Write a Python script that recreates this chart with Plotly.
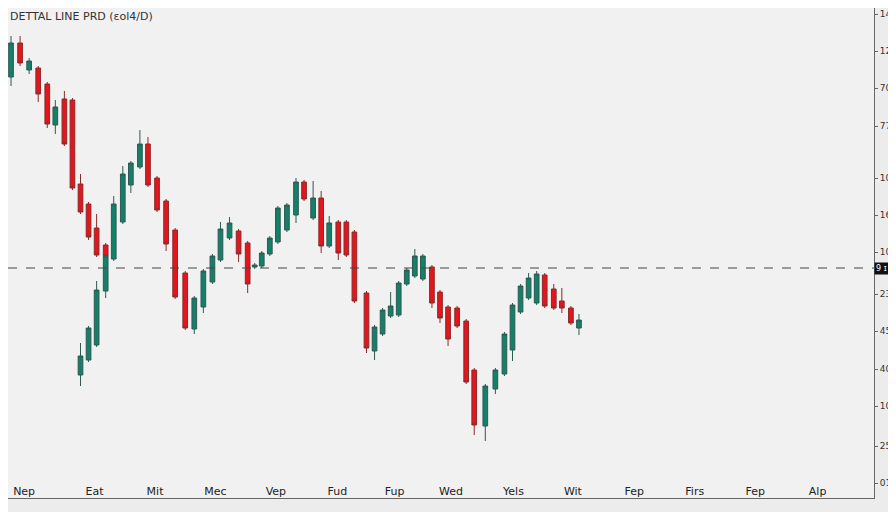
"""Candlestick chart recreation."""
import plotly.graph_objects as go

# main series (x position, open, high, low, close)
x_main = [2, 9, 18, 27, 36, 45, 53, 62, 70, 78, 86, 94, 103, 111, 120, 128, 137, 145, 154, 163,
          172, 182, 191, 200, 209, 217, 226, 235, 244, 251, 258, 266, 274, 283, 292, 300, 309, 317,
          325, 334, 342, 350, 362, 370, 378, 386, 394, 402, 410, 418, 427, 435, 443, 452, 461, 469,
          480, 490, 499, 507, 515, 523, 531, 539, 548, 556, 565, 573]
open_main = [418, 431, 465, 438, 440, 424, 383, 409, 408, 324, 304, 280, 263, 249, 286, 323, 341, 364, 330, 307,
             278, 235, 179, 201, 226, 248, 270, 277, 265, 241, 242, 254, 266, 278, 293, 326, 290, 310,
             262, 286, 286, 276, 215, 157, 174, 192, 193, 224, 232, 229, 241, 216, 201, 200, 187, 138,
             82, 119, 134, 158, 196, 210, 205, 233, 219, 207, 200, 180]
high_main = [435, 472, 472, 450, 442, 426, 408, 417, 410, 334, 306, 294, 265, 312, 342, 347, 378, 371, 332, 309,
             280, 237, 212, 239, 254, 286, 291, 279, 267, 245, 257, 272, 302, 305, 330, 328, 327, 317,
             292, 288, 288, 278, 217, 183, 200, 216, 227, 240, 259, 254, 243, 218, 203, 202, 189, 140,
             124, 140, 176, 205, 224, 235, 237, 235, 224, 220, 202, 194]
low_main = [415, 422, 442, 434, 406, 380, 374, 362, 318, 294, 268, 251, 250, 247, 284, 315, 339, 321, 296, 257,
            209, 178, 174, 195, 224, 246, 268, 246, 215, 239, 240, 252, 264, 276, 285, 307, 288, 255,
            260, 248, 251, 205, 155, 148, 172, 190, 191, 222, 230, 227, 200, 185, 162, 180, 124, 73,
            67, 114, 132, 147, 194, 208, 203, 200, 198, 195, 183, 173]
close_main = [432, 465, 445, 447, 414, 384, 401, 364, 320, 296, 271, 253, 252, 304, 334, 345, 364, 323, 298, 264,
              211, 180, 210, 237, 252, 279, 285, 254, 224, 243, 255, 270, 300, 303, 326, 309, 310, 262,
              285, 255, 253, 207, 160, 181, 198, 202, 225, 238, 252, 252, 205, 190, 169, 182, 126, 83,
              122, 138, 174, 203, 222, 230, 234, 202, 200, 200, 185, 188]

# second rising leg drawn over the early drop
x_leg = [78, 86, 94, 103]
open_leg = [133, 148, 163, 217]
high_leg = [165, 182, 227, 254]
low_leg = [122, 146, 161, 210]
close_leg = [152, 180, 218, 252]

ref_price = 240

tick_x = [22, 92, 152, 212, 272, 333, 390, 446, 508, 567, 628, 688, 748, 810]
tick_x_text = ["Nep", "Eat", "Mit", "Mec", "Vep", "Fud", "Fup", "Wed", "Yels", "Wit", "Fep", "Firs", "Fep", "Alp"]
tick_y = [494, 457, 420, 382, 330, 293, 256, 214, 177, 139, 102, 62, 25]
tick_y_text = ["14", "12.", "70", "77", "10.", "16", "10.", "23", "45", "40", "10.", "25", "01"]

GREEN = "#14806a"
RED = "#e3161d"

fig = go.Figure()
for xs, o, h, l, c in [(x_main, open_main, high_main, low_main, close_main),
                       (x_leg, open_leg, high_leg, low_leg, close_leg)]:
    fig.add_trace(go.Candlestick(
        x=xs, open=o, high=h, low=l, close=c,
        increasing=dict(line=dict(color="#2f5a50", width=1), fillcolor=GREEN),
        decreasing=dict(line=dict(color="#8a2a2a", width=1), fillcolor=RED),
        whiskerwidth=0, showlegend=False,
    ))

fig.add_hline(y=ref_price, line=dict(color="#444444", width=1, dash="dash"))

# page has an 8px body margin, so the figure is drawn slightly smaller
fig.update_layout(
    width=888, height=504,
    margin=dict(l=0, r=22, t=0, b=14),
    boxgap=0.05,
    paper_bgcolor="#ececec",
    plot_bgcolor="#f1f1f1",
    font=dict(family="DejaVu Sans", size=9, color="#333333"),
    xaxis=dict(range=[6, 866], rangeslider_visible=False, showgrid=False, zeroline=False,
               tickvals=tick_x, ticktext=tick_x_text, ticks="", ticklabelposition="inside",
               showline=True, linecolor="#666666", tickfont=dict(size=11, color="#222222")),
    yaxis=dict(range=[10, 500], side="right", showgrid=False, zeroline=False,
               tickvals=tick_y, ticktext=tick_y_text, ticks="outside", ticklen=3,
               tickcolor="#666666", showline=True, linecolor="#666666"),
    annotations=[
        dict(text="DETTAL LINE PRD (ɛol4/D)", xref="paper", yref="paper", x=0, y=1,
             xanchor="left", yanchor="top", showarrow=False, font=dict(size=11, color="#333333")),
        dict(text="9 ɪ", xref="paper", yref="y", x=1.0, y=ref_price, xanchor="left",
             yanchor="middle", showarrow=False, bgcolor="#111111",
             font=dict(size=8, color="white")),
    ],
)

fig.write_html("out.html")
